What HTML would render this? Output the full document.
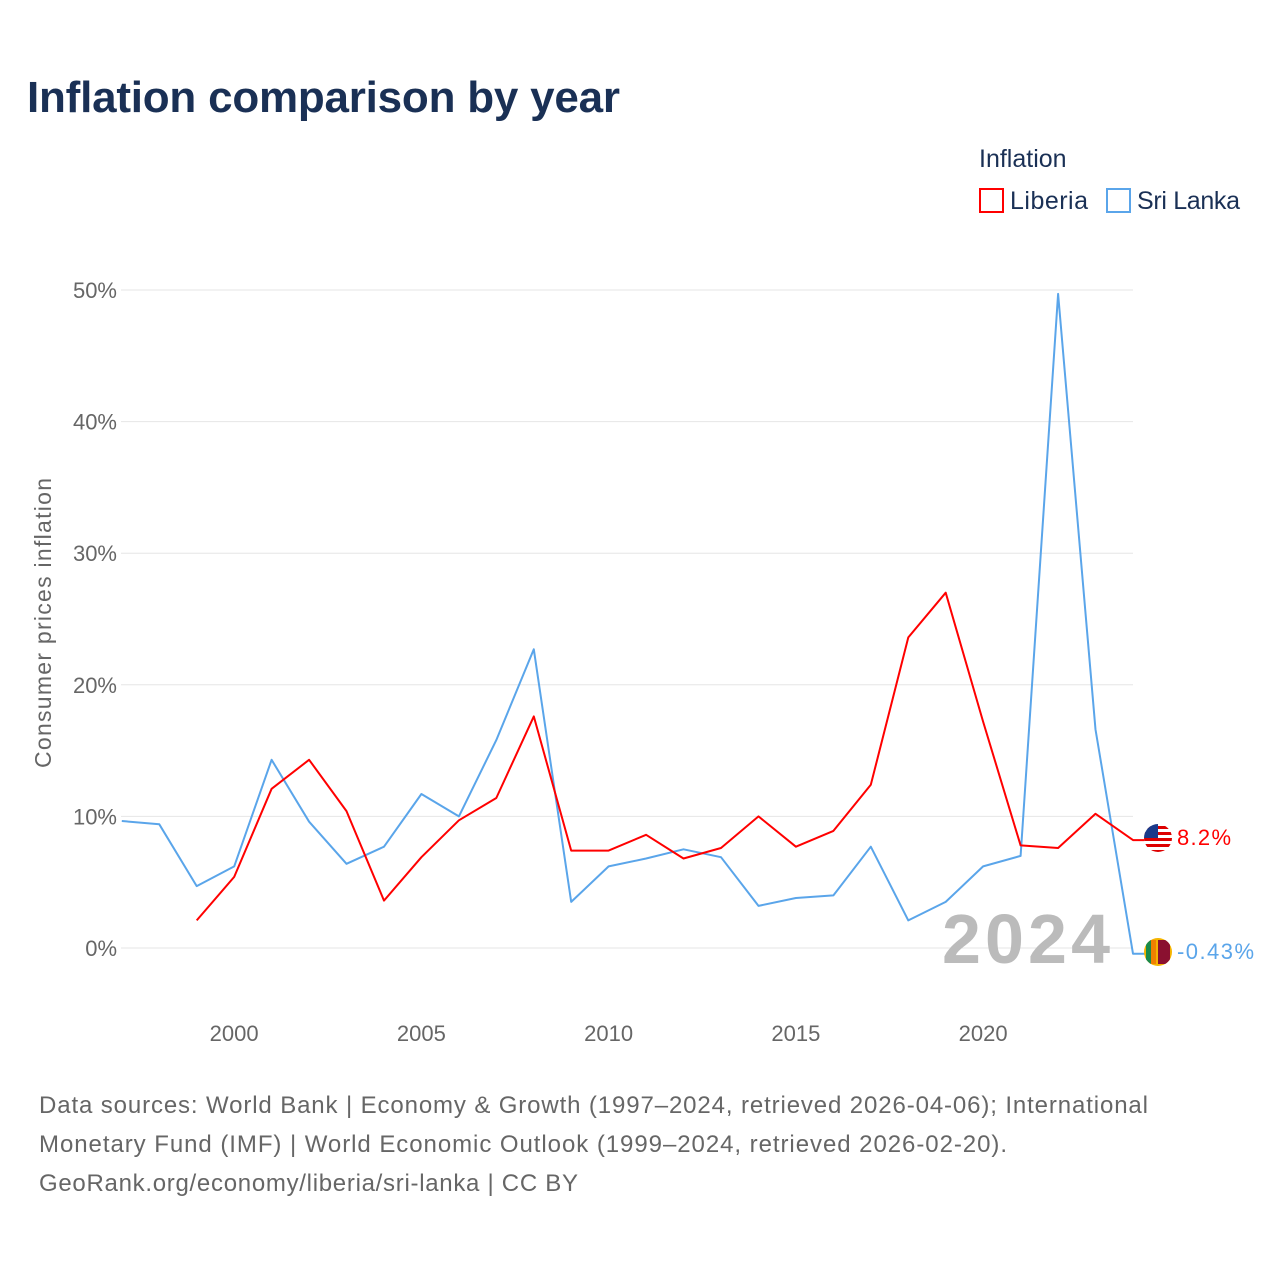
<!DOCTYPE html>
<html><head><meta charset="utf-8"><style>
body{margin:0;background:#fff;font-family:"Liberation Sans",sans-serif;}
#wrap{position:relative;width:1280px;height:1280px;overflow:hidden}
</style></head><body>
<div id="wrap">
<svg id="chart" width="1280" height="1280" style="position:absolute;left:0;top:0">
<text x="27" y="112" font-size="44" font-weight="bold" fill="#1a3055" textLength="593">Inflation comparison by year</text>
<text x="979" y="167" font-size="25" fill="#1a3055">Inflation</text>
<g><rect x="980" y="189" width="23" height="23" fill="none" stroke="#f00" stroke-width="2"/><text x="1010" y="209" font-size="25" fill="#1a3055" textLength="78">Liberia</text></g>
<g><rect x="1107" y="189" width="23" height="23" fill="none" stroke="#5aa5ea" stroke-width="2"/><text x="1137" y="209" font-size="25" fill="#1a3055" textLength="103">Sri Lanka</text></g>
<text transform="translate(51,623) rotate(-90)" text-anchor="middle" font-size="23" fill="#666" textLength="290">Consumer prices inflation</text>
<g id="grid"></g><g id="yt"></g><g id="xt"></g>
<text x="1110" y="963" text-anchor="end" font-size="70" font-weight="bold" fill="#bbb" textLength="168">2024</text>
<g id="series"></g>
<g><clipPath id="c1"><circle cx="1158" cy="838" r="14"/></clipPath><g clip-path="url(#c1)"><rect x="1144" y="824" width="28" height="28" fill="#fff"/><rect x="1144" y="826" width="28" height="3" fill="#d00"/><rect x="1144" y="832" width="28" height="3" fill="#d00"/><rect x="1144" y="838" width="28" height="3" fill="#d00"/><rect x="1144" y="844" width="28" height="3" fill="#d00"/><rect x="1144" y="850" width="28" height="3" fill="#d00"/><rect x="1144" y="824" width="14" height="14" fill="#1a3a8a"/></g></g>
<g><clipPath id="c2"><circle cx="1158" cy="952" r="14"/></clipPath><g clip-path="url(#c2)"><rect x="1144" y="938" width="28" height="28" fill="#f5b400"/><rect x="1146" y="940" width="5" height="24" fill="#1a8a4a"/><rect x="1151" y="940" width="5" height="24" fill="#f08000"/><rect x="1158" y="940" width="12" height="24" fill="#8a1030"/></g></g>
<text x="1177" y="845" font-size="22" fill="#f00" textLength="54">8.2%</text>
<text x="1177" y="959" font-size="22" fill="#5aa5ea" textLength="77">-0.43%</text>
<text font-size="24" fill="#666"><tspan x="39" y="1113" textLength="1109">Data sources: World Bank | Economy &amp; Growth (1997–2024, retrieved 2026-04-06); International</tspan><tspan x="39" y="1152" textLength="968">Monetary Fund (IMF) | World Economic Outlook (1999–2024, retrieved 2026-02-20).</tspan><tspan x="39" y="1191" textLength="539">GeoRank.org/economy/liberia/sri-lanka | CC BY</tspan></text>
</svg>
</div>
<script>
const yTicks=[0,10,20,30,40,50];
const xTicks=[2000,2005,2010,2015,2020];
const sriYears=[1997,1998,1999,2000,2001,2002,2003,2004,2005,2006,2007,2008,2009,2010,2011,2012,2013,2014,2015,2016,2017,2018,2019,2020,2021,2022,2023,2024];
const sriValues=[9.65,9.4,4.7,6.2,14.3,9.6,6.4,7.7,11.7,10.0,15.8,22.7,3.5,6.2,6.8,7.5,6.9,3.2,3.8,4.0,7.7,2.1,3.5,6.2,7.0,49.7,16.6,-0.43];
const libYears=[1999,2000,2001,2002,2003,2004,2005,2006,2007,2008,2009,2010,2011,2012,2013,2014,2015,2016,2017,2018,2019,2020,2021,2022,2023,2024];
const libValues=[2.1,5.4,12.1,14.3,10.4,3.6,6.9,9.7,11.4,17.6,7.4,7.4,8.6,6.8,7.6,10.0,7.7,8.9,12.4,23.6,27.0,17.2,7.8,7.6,10.2,8.2];
const NS="http://www.w3.org/2000/svg";
const xs=y=>121.8+(y-1997)*37.45;
const ys=v=>948-v*13.16;
function mk(t,a,p){const e=document.createElementNS(NS,t);for(const k in a)e.setAttribute(k,a[k]);document.getElementById(p).appendChild(e);return e;}
yTicks.forEach(v=>{
 const l=mk('line',{x1:121,x2:1133,y1:ys(v),y2:ys(v),stroke:'#e6e6e6','stroke-width':1},'grid');
 
 
 const t=mk('text',{x:117,y:ys(v)+8,'text-anchor':'end','font-size':22,fill:'#666'},'yt');t.textContent=v+'%';
 
 
});
xTicks.forEach(y=>{
 const t=mk('text',{x:xs(y),y:1041,'text-anchor':'middle','font-size':22,fill:'#666'},'xt');t.textContent=y;
 
 
});
function line(yrs,vals,col,name){
 const d=yrs.map((y,i)=>(i?'L':'M')+xs(y).toFixed(1)+','+ys(vals[i]).toFixed(1)).join('')+'h12';
 const p=mk('path',{d:d,fill:'none',stroke:col,'stroke-width':2,'stroke-linejoin':'round'},'series');
 
 
}
line(sriYears,sriValues,'#5aa5ea','sri-lanka-line');
line(libYears,libValues,'#f00','liberia-line');
</script>
</body></html>
